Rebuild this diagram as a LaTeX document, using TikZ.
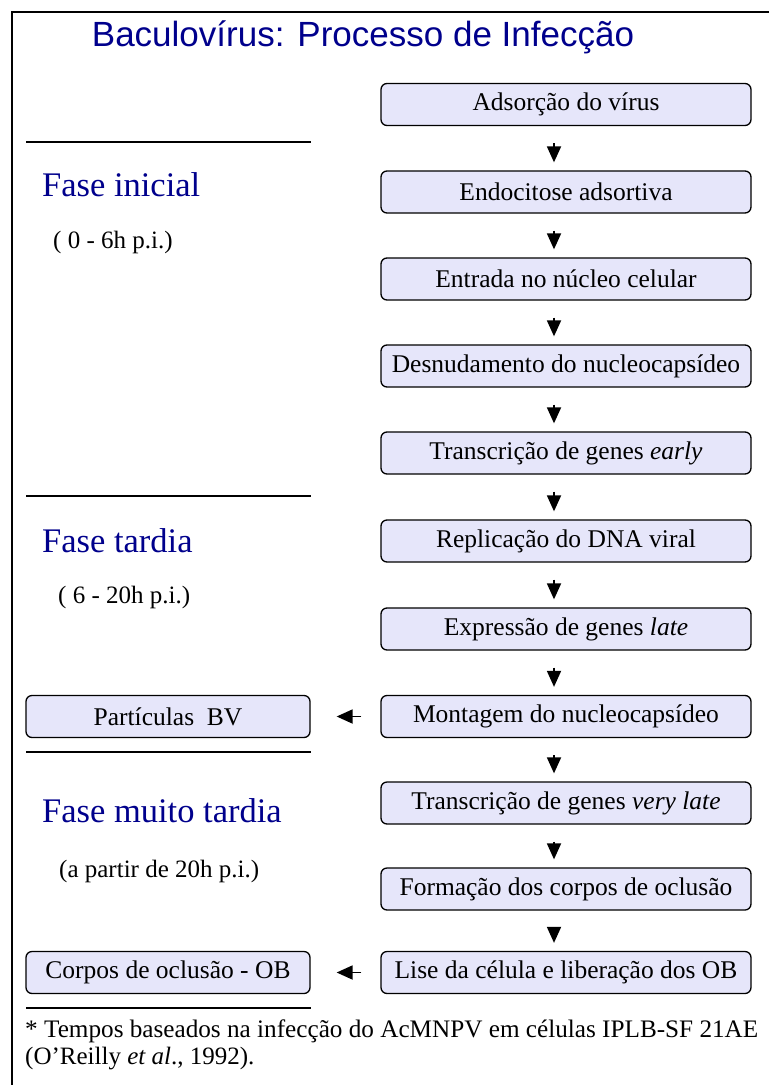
\documentclass[tikz,border=0pt]{standalone}
\usepackage{fontspec}
\setmainfont{Liberation Serif}
\newfontfamily\titlefont{Liberation Sans}
\usetikzlibrary{arrows.meta}
\definecolor{azulfase}{RGB}{0,0,140}
\definecolor{lilas}{RGB}{230,230,250}
\tikzset{
  caixa/.style={draw, fill=lilas, line width=1.3pt, rounded corners=6pt, inner sep=2pt,
    minimum height=42pt, font=\fontsize{25.5}{30}\selectfont},
  caixadir/.style={caixa, minimum width=370pt},
  caixaesq/.style={caixa, minimum width=284pt},
  seta/.style={line width=1.8pt, -{Triangle[length=16pt,width=14pt]}},
  fase/.style={anchor=base west, inner sep=0pt, text=azulfase, font=\fontsize{34.5}{40}\selectfont},
  tempo/.style={anchor=base west, inner sep=0pt, font=\fontsize{25}{28}\selectfont},
  regua/.style={line width=1.5pt}
}
\begin{document}
\begin{tikzpicture}[x=1pt,y=1pt,yscale=-1,xscale=1]
\useasboundingbox (0,0) rectangle (769,1085);

%Frame (cut at the right and bottom)
\draw [line width=1.5pt] (769,12) -- (12,12) -- (12,1085) ;

% Title
\draw (363,46) node [anchor=base][inner sep=0pt, text=azulfase, font=\titlefont\fontsize{35}{40}\selectfont] (titulo) {Baculovírus: Processo de Infecção};

%Rounded Rect -- right column
\draw (566,104.5) node [caixadir] (adsorcao) {Adsorção do vírus};
\draw (566,192) node [caixadir] (endocitose) {Endocitose adsortiva};
\draw (566,279) node [caixadir] (entrada) {Entrada no núcleo celular};
\draw (566,366) node [caixadir] (desnuda) {Desnudamento do nucleocapsídeo};
\draw (566,453) node [caixadir] (transcE) {Transcrição de genes \textit{early}};
\draw (566,541) node [caixadir] (replica) {Replicação do DNA viral};
\draw (566,629) node [caixadir] (expressa) {Expressão de genes \textit{late}};
\draw (566,716.5) node [caixadir] (montagem) {Montagem do nucleocapsídeo};
\draw (566,803) node [caixadir] (transcVL) {Transcrição de genes \textit{very late}};
\draw (566,889) node [caixadir] (formacao) {Formação dos corpos de oclusão};
\draw (566,972.5) node [caixadir] (lise) {Lise da célula e liberação dos OB};

%Rounded Rect -- left column
\draw (168,716.5) node [caixaesq] (particulas) {Partículas\ \ BV};
\draw (168,972.5) node [caixaesq] (corpos) {Corpos de oclusão - OB};

%Straight Lines -- down arrows
\foreach \a/\b in {adsorcao/endocitose, endocitose/entrada, entrada/desnuda, desnuda/transcE,
  transcE/replica, replica/expressa, expressa/montagem, montagem/transcVL,
  transcVL/formacao, formacao/lise}
  \draw [seta, shorten <=17pt, shorten >=8pt] ([xshift=-12pt]\a.south) -- ([xshift=-12pt]\b.north) ;

%Straight Lines -- left arrows
\draw [seta, shorten <=19pt, shorten >=26pt] (montagem.west) -- (particulas.east) ;
\draw [seta, shorten <=19pt, shorten >=26pt] (lise.west) -- (corpos.east) ;

%Straight Lines -- separators
\draw [regua] (26,142) coordinate (r1a) -- (311,142) coordinate (r1b) ;
\draw [regua] (26,496) coordinate (r2a) -- (311,496) coordinate (r2b) ;
\draw [regua] (26,752) coordinate (r3a) -- (311,752) coordinate (r3b) ;
\draw [regua] (26,1008) coordinate (r4a) -- (311,1008) coordinate (r4b) ;

% Text Node
\draw (42,196) node [fase] (faseI) {Fase inicial};
% Text Node
\draw (53,248) node [tempo] (tempoI) {( 0 - 6h p.i.)};
% Text Node
\draw (42,552) node [fase] (faseT) {Fase tardia};
% Text Node
\draw (58,603) node [tempo] (tempoT) {( 6 - 20h p.i.)};
% Text Node
\draw (42,822) node [fase] (faseMT) {Fase muito tardia};
% Text Node
\draw (59,877) node [tempo] (tempoMT) {(a partir de 20h p.i.)};

% Text Node
\draw (25,1037) node [anchor=base west][inner sep=0pt, font=\fontsize{25.2}{28}\selectfont] (nota) {* Tempos baseados na infecção do AcMNPV em células IPLB-SF 21AE};
% Text Node
\draw (25,1064) node [anchor=base west][inner sep=0pt, font=\fontsize{25}{28}\selectfont] (ref) {(O’Reilly \textit{et al}., 1992).};

\end{tikzpicture}
\end{document}
